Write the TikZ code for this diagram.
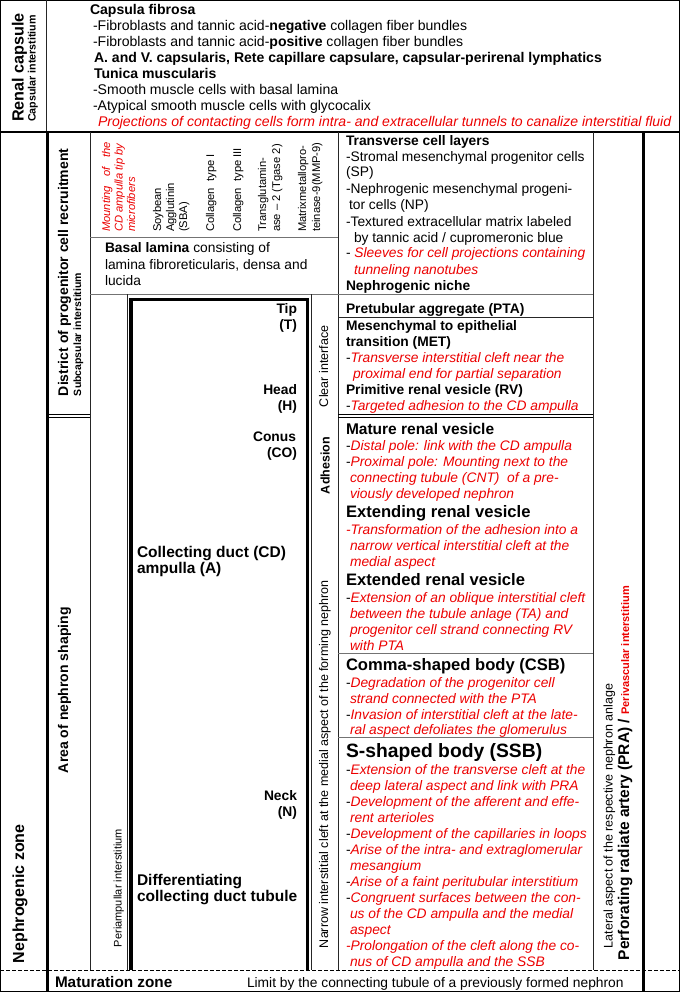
\documentclass[tikz,border=0pt]{standalone}
\usepackage{fontspec}
\setmainfont{Liberation Sans}
\definecolor{rd}{RGB}{236,0,0}
\newcommand\redit[1]{{\color{rd}\itshape #1}}
\newcommand\fmain{\fontsize{13.8}{16}\selectfont}
\newcommand\ftop{\fontsize{14.05}{16}\selectfont}
\newcommand\fbig{\fontsize{15.5}{18}\selectfont}
\newcommand\fcsb{\fontsize{16.6}{19}\selectfont}
\newcommand\fssb{\fontsize{19.3}{22}\selectfont}
\newcommand\fsm{\fontsize{11.2}{13}\selectfont}
\newcommand\fcol{\fontsize{12.5}{15}\selectfont}
\newcommand\flab{\fontsize{14}{16}\selectfont}
\newcommand{\tline}[5][]{\node[txt,#1] (#2) at (#3,#4) {#5};}
\begin{document}
\begin{tikzpicture}[x=1pt,y=-1pt,
  txt/.style={anchor=base west,inner sep=0pt,outer sep=0pt,font=\fmain},
  toptxt/.style={font=\ftop},
  txr/.style={anchor=base east,inner sep=0pt,outer sep=0pt,font=\fmain\bfseries},
  vtxt/.style={anchor=base west,inner sep=0pt,outer sep=0pt,rotate=90},
  thinl/.style={line width=0.8pt,black!85},
  gline/.style={line width=0.8pt,black!55},
  heavy/.style={line width=3pt,black},
  dbl/.style={line width=1.2pt,black}]
\useasboundingbox (0,0) rectangle (680,992);
% ---------- frame and rulings ----------
\draw[line width=1pt] (0.5,0.5) rectangle (679.5,991.5);
\draw[thinl] (46,0) -- (46,132);
\draw[line width=2.5pt] (0,132) -- (680,132);
\draw[heavy] (47.5,132) -- (47.5,992);
\draw[heavy] (643,132) -- (643,992);
\draw[thinl] (90,132) -- (90,970);
\draw[thinl] (338,132) -- (338,970);
\draw[thinl] (593,132) -- (593,970);
\draw[gline] (90,237.5) -- (338,237.5);
\draw[gline] (90,294) -- (593,294);
\draw[thinl] (338,317) -- (593,317);
\draw[dbl] (49,414.3) -- (90,414.3) (49,417.7) -- (90,417.7);
\draw[dbl] (338,414.3) -- (593,414.3) (338,417.7) -- (593,417.7);
\draw[gline] (338,653.5) -- (593,653.5);
\draw[gline] (338,737.5) -- (593,737.5);
\draw[line width=1pt,dash pattern=on 4pt off 2pt] (0,970.5) -- (680,970.5);
% CD ampulla box
\draw[thinl] (127.8,294) -- (127.8,970);
\draw[thinl] (311,294) -- (311,970);
\draw[line width=3.5pt,line join=miter] (131.2,970) -- (131.2,299.3) -- (307.3,299.3) -- (307.3,970);
% ---------- top section ----------
\node[vtxt,font=\fontsize{16.2}{18}\selectfont\bfseries] (rc) at (23.5,122) {Renal capsule};
\node[vtxt,font=\fontsize{10.7}{12}\selectfont\bfseries] (ci) at (35.5,122) {Capsular interstitium};
\tline[toptxt]{cf}{90}{14.5}{\textbf{Capsula fibrosa}}
\tline[toptxt]{cf1}{93}{30.5}{-Fibroblasts and tannic acid-\textbf{negative} collagen fiber bundles}
\tline[toptxt]{cf2}{93}{46.5}{-Fibroblasts and tannic acid-\textbf{positive} collagen fiber bundles}
\tline[toptxt]{cf3}{94}{62.5}{\textbf{A. and V. capsularis, Rete capillare capsulare, capsular-perirenal lymphatics}}
\tline[toptxt]{tm}{94}{78.5}{\textbf{Tunica muscularis}}
\tline[toptxt]{tm1}{93}{94.5}{-Smooth muscle cells with basal lamina}
\tline[toptxt]{tm2}{93}{110.5}{-Atypical smooth muscle cells with glycocalix}
\tline[toptxt]{proj}{98}{126.5}{\redit{Projections of contacting cells form intra- and extracellular tunnels to canalize interstitial fluid}}
% ---------- left labels ----------
\node[vtxt,font=\fontsize{16}{18}\selectfont\bfseries] (nz) at (24,963) {Nephrogenic zone};
\node[vtxt,font=\flab\bfseries] (dist) at (68,396) {District of progenitor cell recruitment};
\node[vtxt,font=\fontsize{10.5}{12}\selectfont\bfseries] (subc) at (81,396) {Subcapsular interstitium};
\node[vtxt,font=\flab\bfseries] (area) at (68,773) {Area of nephron shaping};
\node[vtxt,font=\fontsize{11}{13}\selectfont] (peri) at (121.5,947) {Periampullar interstitium};
% ---------- marker block ----------
\node[vtxt,font=\fsm\itshape,text=rd] (mt1) at (110,232) {\makebox[90pt][s]{Mounting of the}};
\node[vtxt,font=\fsm\itshape,text=rd] (mt2) at (122.5,232) {CD ampulla tip by};
\node[vtxt,font=\fsm\itshape,text=rd] (mt3) at (135,232) {microfibers};
\node[vtxt,font=\fsm] (sba1) at (161,232) {Soybean};
\node[vtxt,font=\fsm] (sba2) at (174,232) {Agglutinin};
\node[vtxt,font=\fsm] (sba3) at (187,232) {(SBA)};
\node[vtxt,font=\fsm] (col1) at (214,232) {Collagen\ \ type I};
\node[vtxt,font=\fsm] (col3) at (241,232) {Collagen\ \ type III};
\node[vtxt,font=\fsm] (tg1) at (266,232) {Transglutamin-};
\node[vtxt,font=\fsm] (tg2) at (280,232) {ase – 2 (Tgase 2)};
\node[vtxt,font=\fsm] (mmp1) at (306,232) {Matrixmetallopro-};
\node[vtxt,font=\fsm] (mmp2) at (320,232) {teinase-9(MMP-9)};
\tline{bl1}{105}{252.5}{\textbf{Basal lamina} consisting of}
\tline{bl2}{105}{269}{lamina fibroreticularis, densa and}
\tline{bl3}{105}{285.5}{lucida}
% ---------- CD ampulla labels ----------
\node[txr] (tip) at (297,313.5) {Tip};
\node[txr] (tipT) at (297,329.5) {(T)};
\node[txr] (head) at (297,394.5) {Head};
\node[txr] (headH) at (297,410.5) {(H)};
\node[txr] (conus) at (296,441.5) {Conus};
\node[txr] (conusC) at (297,457.5) {(CO)};
\node[txr] (neck) at (297,800.5) {Neck};
\node[txr] (neckN) at (297,816.5) {(N)};
\tline[font=\fbig\bfseries]{cd1}{137}{557}{Collecting duct (CD)}
\tline[font=\fbig\bfseries]{cd2}{137}{573.5}{ampulla (A)}
\tline[font=\fbig\bfseries]{dct1}{137}{885}{Differentiating}
\tline[font=\fbig\bfseries]{dct2}{137}{901.5}{collecting duct tubule}
% ---------- interface column ----------
\node[vtxt,font=\fcol] (clear) at (328,407) {Clear interface};
\node[vtxt,font=\fcol\bfseries] (adh) at (329.5,494) {Adhesion};
\node[vtxt,font=\fcol] (narrow) at (328,948) {Narrow interstitial cleft at the medial aspect of the forming nephron};
% ---------- lateral column ----------
\node[vtxt,font=\fcol] (lat) at (612.5,948) {Lateral aspect of the respective nephron anlage};
\node[vtxt,font=\fontsize{15.5}{18}\selectfont\bfseries] (pra) at (629,960) {Perforating radiate artery (PRA) / {\color{rd}\fontsize{11}{13}\selectfont Perivascular interstitium}};
% ---------- right text column ----------
\tline{tc}{346}{146}{\textbf{Transverse cell layers}}
\tline{tc1}{346}{162}{-Stromal mesenchymal progenitor cells}
\tline{tc2}{346}{177}{(SP)}
\tline{tc3}{346}{194}{-Nephrogenic mesenchymal progeni-}
\tline{tc4}{349}{210}{tor cells (NP)}
\tline{tc5}{346}{226}{-Textured extracellular matrix labeled}
\tline{tc6}{354}{242}{by tannic acid / cupromeronic blue}
\tline{tc7}{346}{258}{- \redit{Sleeves for cell projections containing}}
\tline{tc8}{354}{274}{\redit{tunneling nanotubes}}
\tline{nn}{346}{290}{\textbf{Nephrogenic niche}}
\tline{pta}{346}{313}{\textbf{Pretubular aggregate (PTA)}}
\tline{met}{346}{330}{\textbf{Mesenchymal to epithelial}}
\tline{met2}{346}{346}{\textbf{transition (MET)}}
\tline{met3}{346}{362.5}{-\redit{Transverse interstitial cleft near the}}
\tline{met4}{353}{378.5}{\redit{proximal end for partial separation}}
\tline{rv}{346}{394.5}{\textbf{Primitive renal vesicle (RV)}}
\tline{rv1}{346}{410.5}{-\redit{Targeted adhesion to the CD ampulla}}
\tline[font=\fbig]{mrv}{346}{434}{\textbf{Mature renal vesicle}}
\tline{mrv1}{346}{450.5}{-\redit{Distal pole: link with the CD ampulla}}
\tline{mrv2}{346}{466.5}{-\redit{Proximal pole: Mounting next to the}}
\tline{mrv3}{350}{482.5}{\redit{connecting tubule (CNT)\ \ of a pre-}}
\tline{mrv4}{350}{498.5}{\redit{viously developed nephron}}
\tline[font=\fcsb]{ext}{346}{517.5}{\textbf{Extending renal vesicle}}
\tline{ext1}{346}{534}{\redit{-Transformation of the adhesion into a}}
\tline{ext2}{350}{550}{\redit{narrow vertical interstitial cleft at the}}
\tline{ext3}{350}{566}{\redit{medial aspect}}
\tline[font=\fcsb]{exd}{346}{585}{\textbf{Extended renal vesicle}}
\tline{exd1}{346}{602}{-\redit{Extension of an oblique interstitial cleft}}
\tline{exd2}{350}{618}{\redit{between the tubule anlage (TA) and}}
\tline{exd3}{350}{634}{\redit{progenitor cell strand connecting RV}}
\tline{exd4}{350}{650}{\redit{with PTA}}
\tline[font=\fcsb]{csb}{346}{670.5}{\textbf{Comma-shaped body (CSB)}}
\tline{csb1}{346}{687}{-\redit{Degradation of the progenitor cell}}
\tline{csb2}{350}{703}{\redit{strand connected with the PTA}}
\tline{csb3}{346}{719}{-\redit{Invasion of interstitial cleft at the late-}}
\tline{csb4}{350}{734.5}{\redit{ral aspect defoliates the glomerulus}}
\tline[font=\fssb]{ssb}{346}{757}{\textbf{S-shaped body (SSB)}}
\tline{s1}{346}{774}{-\redit{Extension of the transverse cleft at the}}
\tline{s2}{350}{790}{\redit{deep lateral aspect and link with PRA}}
\tline{s3}{346}{806}{-\redit{Development of the afferent and effe-}}
\tline{s4}{350}{822}{\redit{rent arterioles}}
\tline{s5}{346}{838}{-\redit{Development of the capillaries in loops}}
\tline{s6}{346}{854}{-\redit{Arise of the intra- and extraglomerular}}
\tline{s7}{350}{870}{\redit{mesangium}}
\tline{s8}{346}{886}{-\redit{Arise of a faint peritubular interstitium}}
\tline{s9}{346}{902}{-\redit{Congruent surfaces between the con-}}
\tline{s10}{350}{918}{\redit{us of the CD ampulla and the medial}}
\tline{s11}{350}{934}{\redit{aspect}}
\tline{s12}{346}{950}{\redit{-Prolongation of the cleft along the co-}}
\tline{s13}{350}{966}{\redit{nus of CD ampulla and the SSB}}
% ---------- maturation row ----------
\tline[font=\fontsize{15.3}{18}\selectfont\bfseries]{mz}{55}{987}{Maturation zone}
\tline{lim}{247}{987}{Limit by the connecting tubule of a previously formed nephron}
\end{tikzpicture}
\end{document}
